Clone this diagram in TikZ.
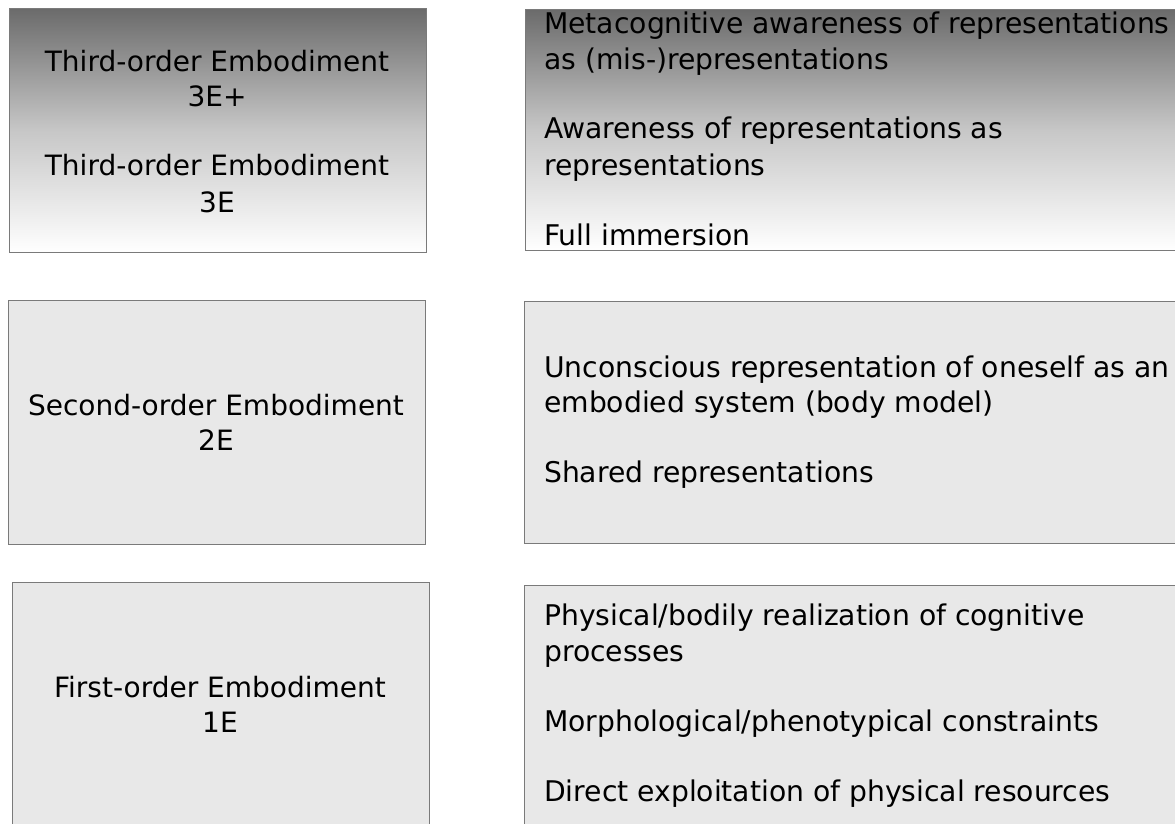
\documentclass[tikz,border=0pt]{standalone}
\usepackage{fontspec}
\setmainfont{DejaVu Sans}
\newfontfamily\listfont[FakeStretch=1.1]{DejaVu Sans Condensed}
\begin{document}
\begin{tikzpicture}[x=1pt,y=-1pt,
  levelbox/.style={draw=black!52,line width=1.3pt,anchor=north west,inner sep=0pt},
  flatfill/.style={fill=black!9},
  shadefill/.style={top color=black!58,bottom color=white,middle color=black!22},
  ordertext/.style={font=\fontsize{28}{36}\selectfont,anchor=base,inner sep=0pt},
  itemtext/.style={font=\listfont\fontsize{28.5}{36}\selectfont,anchor=base west,inner sep=0pt}]
\useasboundingbox (0,0) rectangle (1175,823);
\clip (0,0) rectangle (1175,823);
\fill[white] (0,0) rectangle (1175,823);

% left column: the three orders of embodiment
\node[levelbox,shadefill,minimum width=417pt,minimum height=244pt] (b3) at (9,8) {};
\node[levelbox,flatfill,minimum width=417pt,minimum height=244pt] (b2) at (8,300) {};
\node[levelbox,flatfill,minimum width=417pt,minimum height=260pt] (b1) at (12,582) {};

% right column: what each order involves
\node[levelbox,shadefill,minimum width=680pt,minimum height=241pt] (r3) at (525,9) {};
\node[levelbox,flatfill,minimum width=680pt,minimum height=242pt] (r2) at (524,301) {};
\node[levelbox,flatfill,minimum width=680pt,minimum height=260pt] (r1) at (524,585) {};

% labels of the orders
\node[ordertext] (t3a) at (217,71) {Third-order Embodiment};
\node[ordertext] (t3b) at (217,106) {3E+};
\node[ordertext] (t3c) at (217,175) {Third-order Embodiment};
\node[ordertext] (t3d) at (217,212) {3E};
\node[ordertext] (t2a) at (216,415) {Second-order Embodiment};
\node[ordertext] (t2b) at (216,450) {2E};
\node[ordertext] (t1a) at (220,697) {First-order Embodiment};
\node[ordertext] (t1b) at (220,732) {1E};

% third-order items
\node[itemtext] (m1) at (544,33) {Metacognitive awareness of representations};
\node[itemtext] (m2) at (544,69) {as (mis-)representations};
\node[itemtext] (m3) at (544,138) {Awareness of representations as};
\node[itemtext] (m4) at (544,175) {representations};
\node[itemtext] (m5) at (544,245) {Full immersion};

% second-order items
\node[itemtext] (s1) at (544,377) {Unconscious representation of oneself as an};
\node[itemtext] (s2) at (544,412) {embodied system (body model)};
\node[itemtext] (s3) at (544,482) {Shared representations};

% first-order items
\node[itemtext] (f1) at (544,625) {Physical/bodily realization of cognitive};
\node[itemtext] (f2) at (544,661) {processes};
\node[itemtext] (f3) at (544,731) {Morphological/phenotypical constraints};
\node[itemtext] (f4) at (544,801) {Direct exploitation of physical resources};
\end{tikzpicture}
\end{document}
